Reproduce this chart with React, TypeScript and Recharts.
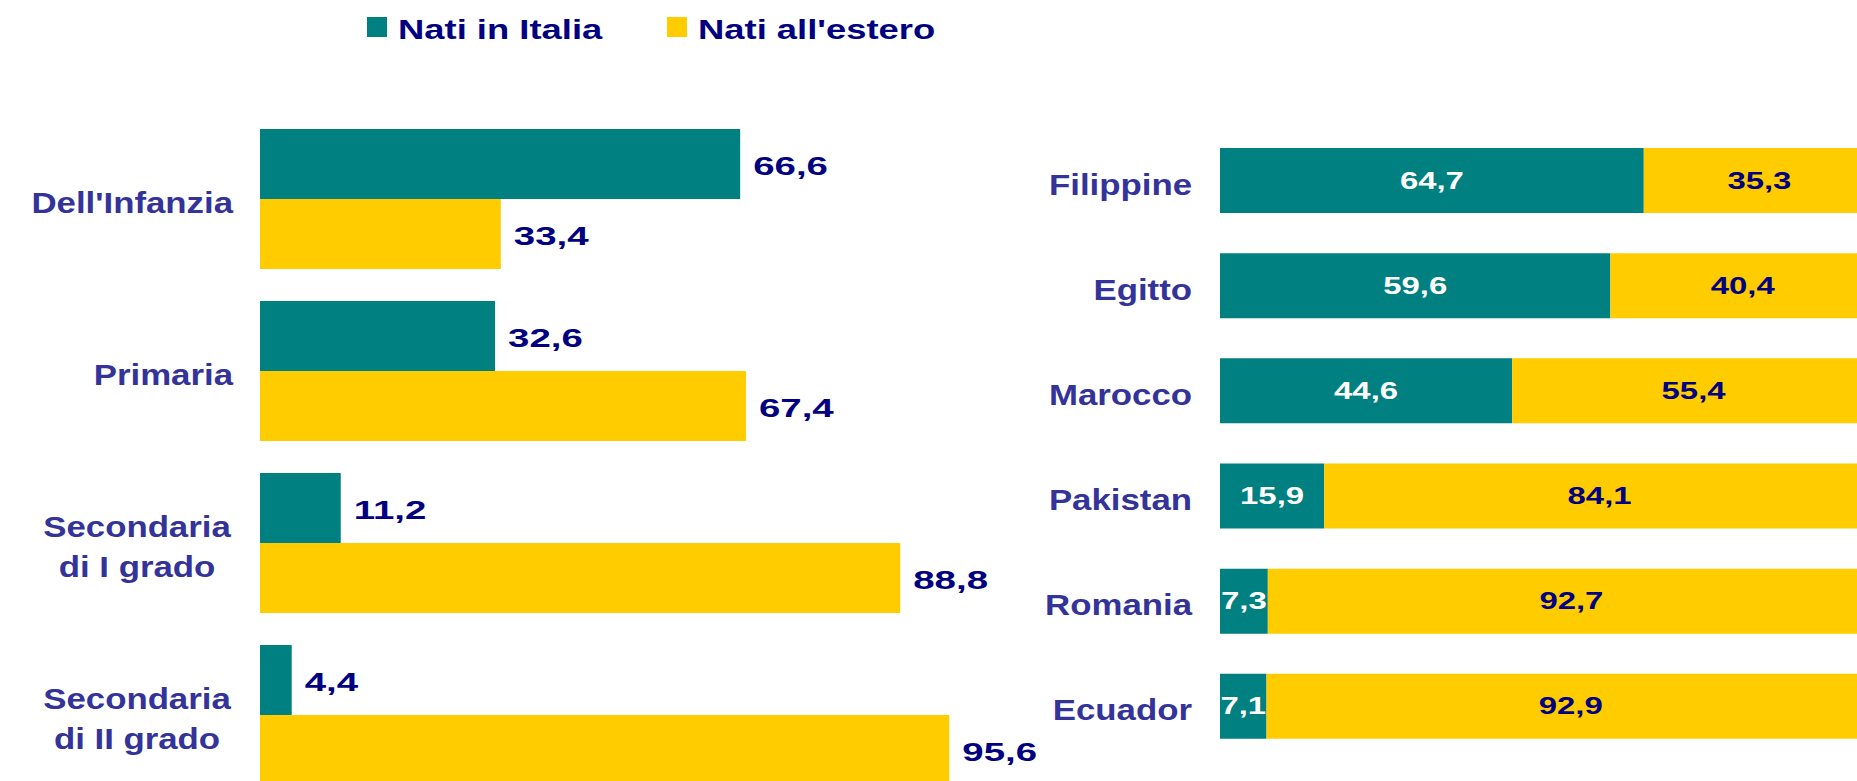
import React from 'react';
import { BarChart, Bar, XAxis, YAxis, LabelList } from 'recharts';

// ---- Data ----
const levels = ["Dell'Infanzia", 'Primaria', 'Secondaria\ndi I grado', 'Secondaria\ndi II grado'];
const levelItalia = [66.6, 32.6, 11.2, 4.4];
const levelEstero = [33.4, 67.4, 88.8, 95.6];

const countries = ['Filippine', 'Egitto', 'Marocco', 'Pakistan', 'Romania', 'Ecuador'];
const countryItalia = [64.7, 59.6, 44.6, 15.9, 7.3, 7.1];
const countryEstero = [35.3, 40.4, 55.4, 84.1, 92.7, 92.9];

const seriesNames = ['Nati in Italia', "Nati all'estero"];

// ---- Styles ----
const FONT = '"Liberation Sans", Arial, Helvetica, sans-serif';
const TEAL = '#008080';
const YELLOW = '#FFCC00';
const NAVY = '#000080';
const CAT = '#333399';
const seriesColors = [TEAL, YELLOW];

const leftData = levels.map((name, i) => ({ name, italia: levelItalia[i], estero: levelEstero[i] }));
const rightData = countries.map((name, i) => ({ name, italia: countryItalia[i], estero: countryEstero[i] }));

const fmt = (v: number) => Number(v).toFixed(1).replace('.', ',');

// Text drawn horizontally stretched (the reference font is wide)
const WideText = (p: {
  x: number;
  y: number;
  sx: number;
  size: number;
  fill: string;
  anchor?: 'start' | 'middle' | 'end';
  ls?: number;
  children: React.ReactNode;
}) => (
  <text
    transform={`translate(${p.x},${p.y}) scale(${p.sx},1)`}
    x={0}
    y={0}
    textAnchor={p.anchor || 'start'}
    fill={p.fill}
    fontSize={p.size}
    fontWeight="bold"
    fontFamily={FONT}
    letterSpacing={p.ls || 0}
  >
    {p.children}
  </text>
);

const CategoryTick = (props: any) => {
  const { x, y, payload } = props;
  const lines = String(payload.value).split('\n');
  if (lines.length === 1) {
    return (
      <WideText x={x} y={y + 14} sx={1.2} size={29} fill={CAT} anchor="end">
        {lines[0]}
      </WideText>
    );
  }
  return (
    <g>
      {lines.map((l, i) => (
        <WideText key={i} x={x - 96} y={y - 6 + i * 40} sx={1.2} size={29} fill={CAT} anchor="middle">
          {l}
        </WideText>
      ))}
    </g>
  );
};

const LeftValueLabel = (props: any) => {
  const { x, y, width, height, value } = props;
  return (
    <WideText x={Number(x) + Number(width) + 13} y={Number(y) + Number(height) / 2 + 11} sx={1.45} size={26.5} fill={NAVY}>
      {fmt(value)}
    </WideText>
  );
};

const makeInnerLabel = (color: string) => (props: any) => {
  const { x, y, width, height, value } = props;
  return (
    <WideText
      x={Number(x) + Number(width) / 2}
      y={Number(y) + Number(height) / 2 + 8}
      sx={1.4}
      size={23.5}
      fill={color}
      anchor="middle"
    >
      {fmt(value)}
    </WideText>
  );
};

const LegendBox = () => {
  const xs = [367, 667];
  return (
    <svg width={1000} height={60} style={{ position: 'absolute', left: 0, top: 0, display: 'block' }}>
      {seriesNames.map((n, i) => (
        <g key={i}>
          <rect x={xs[i]} y={17} width={20} height={20} fill={seriesColors[i]} />
          <WideText x={xs[i] + 31} y={39} sx={1.3} size={28} fill={NAVY}>
            {n}
          </WideText>
        </g>
      ))}
    </svg>
  );
};

export default function App() {
  return (
    <div style={{ position: 'absolute', left: 0, top: 0, width: 1857, height: 781, overflow: 'hidden', background: '#fff' }}>
      <div style={{ position: 'absolute', left: 0, top: 0 }}>
        <BarChart
          width={1080}
          height={810}
          layout="vertical"
          data={leftData}
          margin={{ top: 113, right: 99, bottom: 9, left: 0 }}
          barCategoryGap={16}
          barGap={0}
        >
          <XAxis type="number" domain={[0, 100]} hide />
          <YAxis
            type="category"
            dataKey="name"
            width={260}
            axisLine={false}
            tickLine={false}
            tickSize={0}
            tickMargin={27}
            tick={<CategoryTick />}
            interval={0}
          />
          <Bar dataKey="italia" name={seriesNames[0]} fill={TEAL} isAnimationActive={false}>
            <LabelList dataKey="italia" content={<LeftValueLabel />} />
          </Bar>
          <Bar dataKey="estero" name={seriesNames[1]} fill={YELLOW} isAnimationActive={false}>
            <LabelList dataKey="estero" content={<LeftValueLabel />} />
          </Bar>
        </BarChart>
      </div>
      <div style={{ position: 'absolute', left: 1000, top: 0 }}>
        <BarChart
          width={880}
          height={781}
          layout="vertical"
          data={rightData}
          margin={{ top: 128, right: 5, bottom: 22, left: 0 }}
          barCategoryGap={20}
        >
          <XAxis type="number" domain={[0, 100]} hide />
          <YAxis
            type="category"
            dataKey="name"
            width={220}
            axisLine={false}
            tickLine={false}
            tickSize={0}
            tickMargin={28}
            tick={<CategoryTick />}
            interval={0}
          />
          <Bar dataKey="italia" stackId="a" name={seriesNames[0]} fill={TEAL} isAnimationActive={false}>
            <LabelList dataKey="italia" content={makeInnerLabel('#FFFFFF')} />
          </Bar>
          <Bar dataKey="estero" stackId="a" name={seriesNames[1]} fill={YELLOW} isAnimationActive={false}>
            <LabelList dataKey="estero" content={makeInnerLabel(NAVY)} />
          </Bar>
        </BarChart>
      </div>
      <LegendBox />
    </div>
  );
}
